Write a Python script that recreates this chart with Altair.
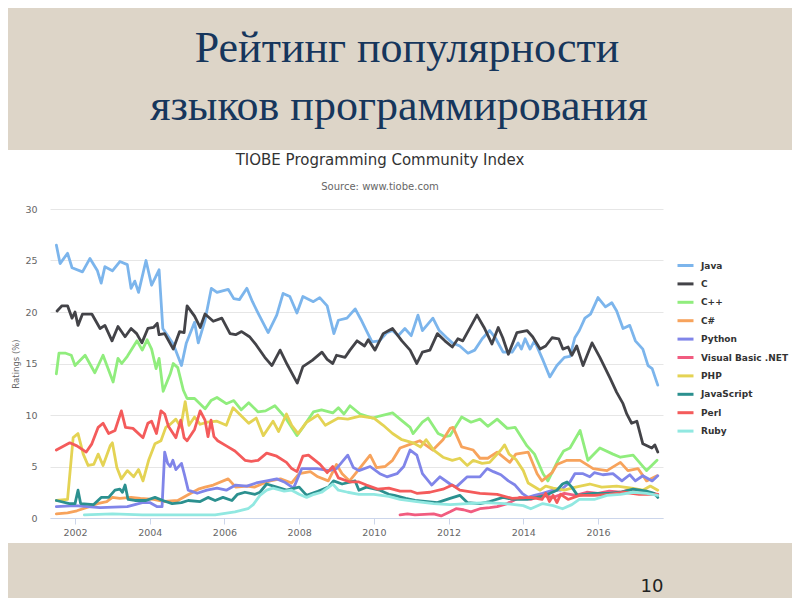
import altair as alt
import pandas as pd

# ---------------- data ----------------
LANGS = ["Java", "C", "C++", "C#", "Python", "Visual Basic .NET",
         "PHP", "JavaScript", "Perl", "Ruby"]
COLORS = ["#7cb5ec", "#434348", "#90ed7d", "#f7a35c", "#8085e9",
          "#f15c80", "#e4d354", "#2b908f", "#f45b5b", "#91e8e1"]

java = [(2001.5, 26.5), (2001.6, 24.7), (2001.8, 25.7), (2001.92, 24.3), (2002.2, 23.9),
        (2002.4, 25.2), (2002.6, 24.0), (2002.7, 22.8), (2002.8, 24.4), (2003.0, 24.0),
        (2003.2, 24.9), (2003.4, 24.6), (2003.5, 22.3), (2003.6, 23.0), (2003.7, 21.9),
        (2003.9, 25.0), (2004.05, 22.6), (2004.25, 24.1), (2004.35, 18.4), (2004.63, 16.9),
        (2004.85, 14.8), (2004.98, 17.0), (2005.2, 19.0), (2005.3, 17.0), (2005.48, 19.2),
        (2005.65, 22.3), (2005.8, 21.9), (2006.1, 22.2), (2006.25, 21.3), (2006.4, 21.2),
        (2006.6, 22.3), (2006.75, 21.0), (2006.9, 19.9), (2007.17, 18.0), (2007.4, 19.7),
        (2007.57, 21.8), (2007.75, 21.5), (2007.94, 19.9), (2008.1, 21.5), (2008.38, 21.0),
        (2008.55, 21.4), (2008.75, 20.6), (2008.93, 17.9), (2009.05, 19.2), (2009.28, 19.4),
        (2009.5, 20.3), (2009.65, 19.3), (2009.8, 18.2), (2009.95, 17.1), (2010.15, 17.2),
        (2010.35, 18.0), (2010.5, 18.2), (2010.65, 17.7), (2010.83, 18.4), (2011.0, 17.7),
        (2011.18, 19.7), (2011.3, 18.2), (2011.58, 19.4), (2011.75, 18.2), (2011.95, 17.5),
        (2012.1, 17.0), (2012.3, 16.7), (2012.52, 16.0), (2012.7, 16.3), (2012.9, 17.4),
        (2013.1, 18.2), (2013.25, 17.5), (2013.46, 16.1), (2013.7, 16.1), (2013.86, 17.0),
        (2013.95, 16.4), (2014.05, 17.4), (2014.18, 16.4), (2014.3, 17.2), (2014.53, 15.3),
        (2014.71, 13.7), (2014.9, 14.8), (2015.1, 15.6), (2015.25, 15.7), (2015.38, 17.5),
        (2015.5, 18.2), (2015.65, 19.4), (2015.8, 19.8), (2016.0, 21.4), (2016.2, 20.5),
        (2016.37, 20.9), (2016.5, 20.1), (2016.67, 18.4), (2016.85, 18.7), (2017.0, 17.2),
        (2017.2, 16.4), (2017.34, 14.8), (2017.45, 14.5), (2017.6, 12.9)]

c_lang = [(2001.52, 20.1), (2001.65, 20.6), (2001.8, 20.6), (2001.92, 19.4), (2002.0, 20.0),
          (2002.08, 18.7), (2002.2, 19.8), (2002.45, 19.8), (2002.67, 18.4), (2002.8, 18.7),
          (2002.99, 17.2), (2003.15, 18.6), (2003.34, 17.6), (2003.5, 18.4), (2003.65, 17.9),
          (2003.79, 17.0), (2003.95, 18.4), (2004.1, 18.5), (2004.2, 18.9), (2004.25, 17.8),
          (2004.4, 17.9), (2004.63, 16.4), (2004.8, 18.1), (2004.92, 18.0), (2005.0, 20.6),
          (2005.2, 19.6), (2005.35, 18.5), (2005.48, 19.8), (2005.7, 19.1), (2005.93, 19.4),
          (2006.15, 17.9), (2006.3, 17.8), (2006.46, 18.1), (2006.67, 17.6), (2006.85, 16.8),
          (2007.08, 15.6), (2007.27, 14.8), (2007.49, 16.3), (2007.68, 14.9), (2007.95, 13.1),
          (2008.1, 14.7), (2008.35, 15.3), (2008.61, 16.1), (2008.75, 15.4), (2008.9, 15.0),
          (2009.0, 15.8), (2009.23, 15.6), (2009.36, 16.3), (2009.55, 17.2), (2009.75, 16.7),
          (2009.85, 17.3), (2010.03, 16.3), (2010.25, 17.9), (2010.4, 18.2), (2010.5, 18.4),
          (2010.75, 17.2), (2010.97, 16.3), (2011.15, 15.0), (2011.3, 16.1), (2011.5, 16.3),
          (2011.7, 17.9), (2011.9, 17.2), (2012.1, 16.6), (2012.25, 17.4), (2012.38, 17.2),
          (2012.76, 19.7), (2012.95, 18.5), (2013.16, 16.9), (2013.33, 18.5), (2013.45, 17.5),
          (2013.6, 15.9), (2013.83, 18.0), (2014.1, 18.2), (2014.25, 17.6), (2014.45, 16.4),
          (2014.6, 16.7), (2014.77, 17.5), (2014.95, 17.4), (2015.06, 16.4), (2015.2, 16.6),
          (2015.3, 15.8), (2015.43, 16.7), (2015.6, 14.8), (2015.84, 17.0), (2016.05, 15.6),
          (2016.32, 13.6), (2016.5, 12.2), (2016.67, 11.1), (2016.77, 10.1), (2016.9, 9.2),
          (2017.04, 9.4), (2017.2, 7.2), (2017.44, 6.8), (2017.52, 7.1), (2017.6, 6.4)]

cpp = [(2001.5, 14.0), (2001.57, 16.0), (2001.75, 16.0), (2001.9, 15.8), (2002.0, 14.8),
       (2002.27, 15.8), (2002.53, 14.1), (2002.75, 15.8), (2003.02, 13.2), (2003.15, 15.5),
       (2003.25, 15.0), (2003.4, 15.7), (2003.66, 17.2), (2003.8, 16.3), (2003.93, 17.3),
       (2004.05, 16.4), (2004.17, 14.5), (2004.25, 15.5), (2004.36, 12.3), (2004.55, 14.0),
       (2004.63, 15.0), (2004.75, 14.6), (2004.9, 12.4), (2005.0, 11.6), (2005.2, 11.6),
       (2005.48, 10.6), (2005.64, 11.4), (2005.8, 11.7), (2006.05, 11.1), (2006.25, 11.4),
       (2006.45, 10.5), (2006.65, 11.2), (2006.9, 10.3), (2007.1, 10.4), (2007.35, 10.9),
       (2007.62, 9.8), (2007.94, 8.0), (2008.1, 8.8), (2008.38, 10.3), (2008.6, 10.5),
       (2008.9, 10.2), (2009.05, 10.7), (2009.2, 10.1), (2009.36, 10.9), (2009.63, 10.1),
       (2009.97, 9.7), (2010.15, 9.9), (2010.5, 10.2), (2010.7, 9.6), (2010.97, 8.8),
       (2011.05, 8.2), (2011.3, 9.3), (2011.45, 9.7), (2011.72, 8.2), (2011.9, 7.9),
       (2012.04, 8.0), (2012.35, 9.8), (2012.6, 9.3), (2012.84, 9.6), (2013.05, 8.9),
       (2013.3, 9.6), (2013.57, 8.7), (2013.78, 8.8), (2014.1, 7.0), (2014.3, 6.2),
       (2014.53, 4.3), (2014.66, 3.6), (2014.93, 5.6), (2015.08, 6.5), (2015.25, 6.8),
       (2015.52, 8.5), (2015.73, 5.6), (2016.05, 6.8), (2016.4, 6.2), (2016.6, 5.9),
       (2016.94, 6.1), (2017.3, 4.6), (2017.58, 5.6)]

csharp = [(2001.5, 0.4), (2001.8, 0.5), (2002.05, 0.7), (2002.3, 1.0), (2002.6, 1.4),
          (2002.85, 1.6), (2003.0, 2.0), (2003.2, 1.9), (2003.5, 2.0), (2003.75, 1.9),
          (2004.1, 1.8), (2004.4, 1.6), (2004.75, 1.7), (2005.1, 2.4), (2005.3, 2.8),
          (2005.48, 3.0), (2005.7, 3.2), (2006.1, 3.8), (2006.3, 3.0), (2006.6, 3.1),
          (2006.8, 3.0), (2007.0, 3.3), (2007.22, 3.6), (2007.5, 3.8), (2007.8, 3.4),
          (2008.0, 4.3), (2008.3, 4.5), (2008.5, 4.0), (2008.78, 3.6), (2009.0, 5.2),
          (2009.15, 4.3), (2009.35, 3.6), (2009.55, 4.5), (2009.9, 6.1), (2010.07, 4.9),
          (2010.3, 5.0), (2010.5, 5.6), (2010.7, 6.8), (2011.0, 7.2), (2011.23, 7.5),
          (2011.58, 6.6), (2011.85, 7.6), (2012.04, 8.7), (2012.12, 8.8), (2012.35, 6.9),
          (2012.66, 6.6), (2012.84, 5.8), (2013.05, 5.8), (2013.3, 6.4), (2013.64, 5.4),
          (2013.8, 6.2), (2014.13, 6.4), (2014.37, 4.3), (2014.5, 3.6), (2014.77, 4.4),
          (2014.9, 5.2), (2015.17, 5.6), (2015.52, 5.6), (2015.87, 4.8), (2016.24, 4.6),
          (2016.6, 5.4), (2016.8, 4.6), (2017.07, 4.8), (2017.3, 3.6), (2017.58, 4.1)]

python = [(2001.5, 1.1), (2002.0, 1.2), (2002.67, 1.0), (2003.4, 1.1), (2003.8, 1.5),
          (2004.0, 1.5), (2004.2, 1.1), (2004.33, 1.1), (2004.4, 6.4), (2004.48, 5.3),
          (2004.55, 5.0), (2004.62, 5.6), (2004.7, 4.7), (2004.85, 5.3), (2004.93, 4.2),
          (2005.03, 2.7), (2005.27, 2.4), (2005.53, 2.7), (2005.8, 2.9), (2006.05, 2.7),
          (2006.3, 3.2), (2006.6, 3.1), (2006.85, 3.4), (2007.13, 3.6), (2007.4, 3.8),
          (2007.6, 3.5), (2007.85, 2.9), (2008.07, 4.8), (2008.48, 4.8), (2008.8, 4.6),
          (2009.0, 4.8), (2009.3, 6.1), (2009.45, 4.9), (2009.6, 4.6), (2009.9, 5.0),
          (2010.16, 4.3), (2010.35, 4.0), (2010.62, 4.3), (2010.8, 5.0), (2010.97, 6.6),
          (2011.15, 6.1), (2011.3, 4.3), (2011.55, 3.2), (2011.77, 4.0), (2012.04, 3.3),
          (2012.2, 3.0), (2012.5, 4.0), (2012.84, 4.0), (2013.03, 4.8), (2013.2, 4.5),
          (2013.4, 4.2), (2013.6, 3.6), (2013.78, 3.2), (2013.97, 2.4), (2014.13, 2.0),
          (2014.3, 2.2), (2014.52, 2.4), (2014.8, 2.7), (2015.0, 2.7), (2015.25, 3.5),
          (2015.38, 4.3), (2015.6, 4.3), (2015.78, 4.0), (2015.9, 4.4), (2016.13, 4.2),
          (2016.4, 4.3), (2016.64, 3.6), (2016.85, 4.2), (2017.0, 3.6), (2017.2, 4.1),
          (2017.45, 3.6), (2017.6, 4.1)]

vbnet = [(2010.7, 0.3), (2010.9, 0.4), (2011.1, 0.3), (2011.6, 0.4), (2011.8, 0.2),
         (2012.04, 0.6), (2012.2, 0.9), (2012.4, 0.8), (2012.6, 0.6), (2012.84, 0.9),
         (2013.1, 1.0), (2013.3, 1.1), (2013.57, 1.4), (2013.9, 2.0), (2014.2, 1.8),
         (2014.5, 2.2), (2014.8, 2.0), (2015.1, 2.4), (2015.4, 2.2), (2015.7, 2.5),
         (2016.0, 2.4), (2016.3, 2.6), (2016.6, 2.5), (2016.9, 2.8), (2017.2, 2.6),
         (2017.6, 2.3)]

php = [(2001.5, 1.7), (2001.8, 1.8), (2001.95, 7.8), (2002.08, 8.2), (2002.22, 6.2),
       (2002.35, 5.1), (2002.5, 5.2), (2002.62, 6.2), (2002.75, 5.1), (2002.94, 7.0),
       (2003.0, 7.3), (2003.12, 4.9), (2003.24, 3.8), (2003.4, 4.6), (2003.57, 4.0),
       (2003.7, 4.7), (2003.82, 3.6), (2003.97, 5.6), (2004.14, 7.2), (2004.3, 7.5),
       (2004.43, 8.8), (2004.55, 9.1), (2004.7, 9.6), (2004.83, 8.8), (2004.95, 11.3),
       (2005.05, 9.0), (2005.2, 9.8), (2005.35, 9.1), (2005.55, 9.3), (2005.8, 9.4),
       (2006.05, 9.0), (2006.23, 10.7), (2006.4, 10.1), (2006.65, 9.2), (2006.85, 9.7),
       (2007.04, 8.0), (2007.3, 9.4), (2007.45, 8.4), (2007.66, 10.1), (2007.8, 9.0),
       (2007.97, 8.2), (2008.2, 9.3), (2008.5, 10.0), (2008.7, 9.0), (2009.05, 9.7),
       (2009.3, 9.6), (2009.63, 9.9), (2010.0, 9.7), (2010.25, 9.0), (2010.5, 8.2),
       (2010.75, 7.6), (2011.05, 7.3), (2011.25, 6.9), (2011.4, 7.6), (2011.6, 6.6),
       (2011.85, 5.9), (2012.1, 5.6), (2012.3, 5.8), (2012.5, 5.1), (2012.66, 5.6),
       (2012.9, 5.3), (2013.1, 5.4), (2013.4, 6.6), (2013.5, 7.1), (2013.62, 6.2),
       (2013.8, 5.7), (2014.0, 4.6), (2014.13, 3.4), (2014.45, 2.7), (2014.6, 3.1),
       (2014.8, 2.9), (2015.1, 2.7), (2015.4, 3.0), (2015.78, 3.3), (2016.1, 3.0),
       (2016.5, 3.1), (2016.9, 2.9), (2017.2, 2.7), (2017.4, 3.1), (2017.6, 2.7)]

javascript = [(2001.5, 1.7), (2001.85, 1.4), (2002.0, 1.4), (2002.08, 2.7), (2002.15, 1.4),
              (2002.5, 1.3), (2002.7, 2.0), (2002.9, 2.0), (2003.07, 2.7), (2003.2, 2.8),
              (2003.27, 2.5), (2003.34, 3.2), (2003.42, 1.8), (2003.6, 1.7), (2003.9, 1.7),
              (2004.14, 2.0), (2004.35, 1.7), (2004.6, 1.4), (2004.85, 1.5), (2005.03, 1.7),
              (2005.35, 1.6), (2005.56, 2.0), (2005.75, 1.7), (2005.96, 2.0), (2006.2, 1.7),
              (2006.35, 2.3), (2006.55, 2.5), (2006.82, 2.3), (2006.95, 2.5), (2007.13, 3.3),
              (2007.4, 3.0), (2007.66, 2.7), (2008.0, 3.0), (2008.2, 2.2), (2008.5, 2.6),
              (2008.78, 3.0), (2008.92, 3.6), (2009.15, 3.3), (2009.5, 3.6), (2009.6, 2.7),
              (2009.8, 3.0), (2010.16, 2.7), (2010.4, 2.3), (2010.55, 2.2), (2010.85, 1.9),
              (2011.1, 1.7), (2011.7, 1.5), (2012.04, 1.9), (2012.3, 2.2), (2012.5, 1.5),
              (2012.84, 1.4), (2013.1, 1.6), (2013.46, 2.0), (2013.75, 1.8), (2014.1, 1.8),
              (2014.37, 2.0), (2014.6, 2.2), (2014.9, 2.7), (2015.05, 3.3), (2015.17, 3.5),
              (2015.3, 3.0), (2015.45, 2.2), (2015.87, 2.4), (2016.3, 2.4), (2016.6, 2.5),
              (2016.94, 2.8), (2017.3, 2.6), (2017.5, 2.4), (2017.6, 2.0)]

perl = [(2001.5, 6.6), (2001.86, 7.3), (2002.05, 7.0), (2002.3, 6.4), (2002.45, 7.2),
        (2002.62, 8.8), (2002.75, 9.2), (2002.9, 8.2), (2003.07, 8.5), (2003.24, 10.4),
        (2003.35, 8.8), (2003.55, 8.7), (2003.82, 7.8), (2003.95, 9.2), (2004.05, 9.4),
        (2004.18, 8.2), (2004.3, 10.4), (2004.4, 10.1), (2004.5, 8.9), (2004.7, 7.8),
        (2004.83, 9.5), (2004.92, 7.8), (2005.0, 7.5), (2005.2, 8.6), (2005.35, 10.4),
        (2005.48, 9.5), (2005.56, 7.9), (2005.64, 9.5), (2005.72, 7.9), (2005.82, 7.5),
        (2006.05, 7.0), (2006.28, 6.5), (2006.55, 5.6), (2006.72, 5.5), (2006.9, 5.6),
        (2007.13, 6.3), (2007.4, 6.0), (2007.66, 5.4), (2007.8, 4.8), (2007.94, 4.5),
        (2008.1, 6.0), (2008.25, 6.1), (2008.56, 5.2), (2008.75, 4.4), (2008.9, 5.0),
        (2009.05, 3.9), (2009.36, 3.5), (2009.6, 3.5), (2009.8, 3.2), (2010.1, 2.8),
        (2010.4, 2.9), (2010.7, 2.6), (2011.0, 2.6), (2011.15, 2.4), (2011.5, 2.5),
        (2011.85, 2.8), (2012.1, 3.2), (2012.3, 2.7), (2012.84, 2.4), (2013.3, 2.3),
        (2013.7, 1.9), (2014.2, 2.0), (2014.5, 1.8), (2014.6, 2.4), (2014.7, 1.6),
        (2014.8, 2.2), (2014.9, 1.5), (2015.0, 2.3), (2015.2, 1.8), (2015.5, 2.2),
        (2015.9, 2.2), (2016.3, 2.3), (2016.7, 2.5), (2017.1, 2.3), (2017.6, 2.3)]

ruby = [(2002.25, 0.3), (2003.0, 0.4), (2003.8, 0.3), (2004.8, 0.3), (2005.75, 0.3),
        (2006.28, 0.6), (2006.63, 0.9), (2006.77, 1.3), (2006.95, 2.2), (2007.13, 2.7),
        (2007.3, 2.9), (2007.6, 2.6), (2007.8, 2.7), (2008.0, 2.3), (2008.2, 2.0),
        (2008.4, 2.3), (2008.6, 2.5), (2008.9, 3.3), (2009.05, 2.7), (2009.3, 2.5),
        (2009.6, 2.3), (2010.0, 2.3), (2010.4, 2.1), (2010.7, 1.8), (2011.15, 1.6),
        (2011.6, 1.4), (2012.04, 1.3), (2012.5, 1.4), (2013.0, 1.5), (2013.5, 1.4),
        (2014.0, 1.2), (2014.2, 0.9), (2014.52, 1.4), (2014.8, 1.2), (2015.05, 0.9),
        (2015.3, 1.3), (2015.5, 1.8), (2015.9, 1.8), (2016.24, 2.2), (2016.6, 2.3),
        (2016.94, 2.5), (2017.3, 2.4), (2017.6, 2.2)]

SERIES = [java, c_lang, cpp, csharp, python, vbnet, php, javascript, perl, ruby]

Y_TICKS = [0, 5, 10, 15, 20, 25, 30]
X_TICKS = [2002, 2004, 2006, 2008, 2010, 2012, 2014, 2016]

SLIDE_TITLE_1 = "Рейтинг популярности"
SLIDE_TITLE_2 = "языков программирования"
CHART_TITLE = "TIOBE Programming Community Index"
CHART_SUBTITLE = "Source: www.tiobe.com"
Y_TITLE = "Ratings (%)"
PAGE_NO = "10"

rows = []
for lang, pts in zip(LANGS, SERIES):
    for i, (x, v) in enumerate(pts):
        rows.append({"lang": lang, "year": x, "value": v, "i": i})
df = pd.DataFrame(rows)

# ---------------- layout ----------------
W, H = 613, 309
PAD = {"left": 42, "top": 201, "right": 129, "bottom": 80}
BEIGE = "#ddd5c8"
CH_FONT = "DejaVu Sans"

one = alt.Data(values=[{"k": 1}])

top_bg = alt.Chart(one).mark_rect(fill=BEIGE).encode(
    x=alt.value(-PAD["left"]), x2=alt.value(W + PAD["right"]),
    y=alt.value(-PAD["top"]), y2=alt.value(-59))
bot_bg = alt.Chart(one).mark_rect(fill=BEIGE).encode(
    x=alt.value(-PAD["left"]), x2=alt.value(W + PAD["right"]),
    y=alt.value(334), y2=alt.value(H + PAD["bottom"]))


def text_layer(s, x, y, size, color, font, weight="normal", baseline="alphabetic"):
    return alt.Chart(alt.Data(values=[{"t": s}])).mark_text(
        fontSize=size, color=color, font=font, fontWeight=weight,
        align="center", baseline=baseline
    ).encode(text="t:N", x=alt.value(x), y=alt.value(y))


lines = alt.Chart(df).mark_line(strokeWidth=2.8, strokeJoin="round", strokeCap="round").encode(
    x=alt.X("year:Q",
            scale=alt.Scale(domain=[2001.33, 2017.74], nice=False, zero=False),
            axis=alt.Axis(values=X_TICKS, format="d", title=None, grid=False,
                          domainColor="#ccd6eb", tickColor="#ccd6eb", tickSize=6,
                          labelPadding=3, labelFont=CH_FONT, labelFontSize=9.5,
                          labelColor="#666666")),
    y=alt.Y("value:Q",
            scale=alt.Scale(domain=[0, 30], nice=False),
            axis=alt.Axis(values=Y_TICKS, title=Y_TITLE, grid=True, gridColor="#e6e6e6",
                          domain=False, ticks=False, labelPadding=13,
                          labelFont=CH_FONT, labelFontSize=9.5, labelColor="#666666",
                          titleFont=CH_FONT, titleFontSize=8.5, titleFontWeight="normal",
                          titleColor="#666666", titlePadding=4)),
    color=alt.Color("lang:N",
                    scale=alt.Scale(domain=LANGS, range=COLORS),
                    legend=alt.Legend(orient="none", legendX=626, legendY=47, title=None,
                                      symbolType="stroke", symbolStrokeWidth=3,
                                      symbolSize=256, labelFont=CH_FONT,
                                      labelFontWeight="bold", labelFontSize=9,
                                      labelColor="#333333", labelOffset=6,
                                      rowPadding=2.4)),
    detail="lang:N",
    order="i:Q",
)

chart = alt.layer(
    top_bg, bot_bg, lines,
    text_layer(SLIDE_TITLE_1, 357, -147, 44, "#16365c", "Liberation Serif"),
    text_layer(SLIDE_TITLE_2, 349, -89, 44, "#16365c", "Liberation Serif"),
    text_layer(CHART_TITLE, 330, -49, 15, "#333333", CH_FONT, baseline="middle"),
    text_layer(CHART_SUBTITLE, 330, -22, 10, "#666666", CH_FONT, baseline="middle"),
    text_layer(PAGE_NO, 602, 378, 18, "#222222", CH_FONT, baseline="middle"),
).properties(
    width=W, height=H, padding=PAD,
    autosize=alt.AutoSizeParams(type="none"),
).configure(background="white").configure_view(stroke=None)

chart.save("out.html", embed_options={"renderer": "svg", "actions": False})
